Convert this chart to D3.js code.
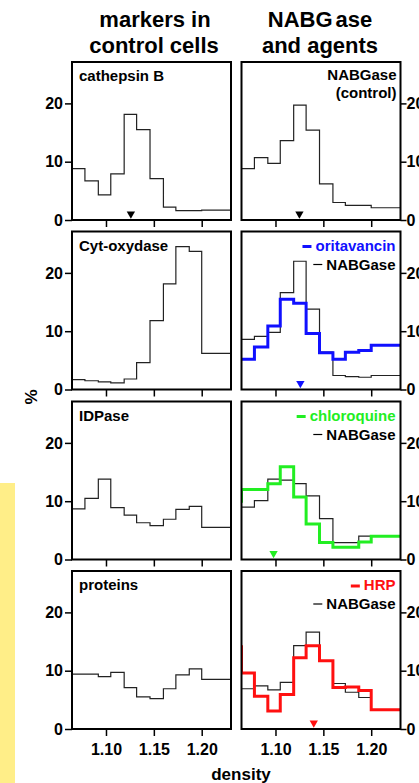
<!DOCTYPE html>
<html>
<head>
<meta charset="utf-8">
<script src="https://cdn.jsdelivr.net/npm/d3@7"></script>
<style>
  body { margin: 0; background: #fff; }
  text { font-family: "Liberation Sans", Arial, sans-serif; font-weight: bold; }
</style>
</head>
<body>
<svg id="chart" width="419" height="783"></svg>
<script>
// fraction limits on the density axis (bin 0 lies left of the plotted range)
var binEdges = [1.051, 1.0645, 1.078, 1.092, 1.105, 1.119, 1.132, 1.146, 1.160, 1.173, 1.187, 1.200, 1.235];
var xTicks = [1.10, 1.15, 1.20];
var yTicks = [0, 10, 20];

// left column: markers in control cells
var cathepsinB = [null, 8.8, 6.7, 4.3, 7.9, 18.1, 15.5, 7.1, 2.2, 1.6, 1.6, 1.7];
var cytOxydase = [null, 1.7, 1.5, 1.3, 1.15, 1.8, 4.6, 11.8, 18.1, 24.5, 23.7, 6.2];
var idpase     = [null, 8.7, 10.5, 13.8, 8.9, 7.6, 6.3, 5.8, 6.9, 8.6, 9.1, 5.5];
var proteins   = [null, 9.4, 9.4, 9.0, 9.7, 7.1, 5.5, 5.2, 6.9, 9.3, 10.3, 8.5];

// right column: NABGase and agents
var nabgControl = [null, 8.8, 10.7, 9.7, 13.6, 19.7, 15.4, 6.2, 3.0, 2.5, 2.5, 2.1];
var nabgOrita   = [null, 8.6, 9.1, 9.8, 16.6, 22.0, 13.8, 6.4, 2.4, 2.2, 2.1, 2.4];
var oritavancin = [null, 5.2, 7.3, 10.9, 15.5, 14.8, 9.6, 6.3, 5.2, 6.4, 6.7, 7.6];
var nabgChloro  = [null, 9.0, 10.1, 13.8, 13.6, 13.0, 10.9, 7.0, 2.9, 2.9, 4.0, 4.0];
var chloroquine = [10.0, 12.0, 12.0, 13.0, 15.9, 10.7, 6.1, 2.9, 2.1, 2.1, 3.0, 4.0];
var nabgHrp     = [null, 6.9, 7.4, 6.7, 8.0, 14.3, 16.6, 11.7, 7.8, 6.3, 5.4, 3.3];
var hrp         = [14.1, 9.6, 5.6, 3.1, 5.9, 12.2, 14.3, 11.7, 7.1, 7.2, 6.6, 3.3];

// median density arrows
var arrowCathepsin = 1.126;
var arrowControl = 1.125;
var arrowOrita = 1.126;
var arrowChloro = 1.098;
var arrowHrp = 1.140;

var W = 159, H = 158;
var colX = [72, 241.5];
var rowY = [62, 231.5, 401.5, 571];

var x = d3.scaleLinear().domain([1.0645, 1.2306]).range([0, W]);
var y = d3.scaleLinear().domain([0, 27.1]).range([H, 0]);

var svg = d3.select("#chart");

// yellow strip on the left
svg.append("rect").attr("x", 0).attr("y", 483).attr("width", 15).attr("height", 300).attr("fill", "#ffee88");

// headings
svg.append("text").attr("x", 155).attr("y", 27).attr("text-anchor", "middle").attr("font-size", 22).text("markers in");
svg.append("text").attr("x", 154).attr("y", 53).attr("text-anchor", "middle").attr("font-size", 22).text("control cells");
var h2 = svg.append("text").attr("x", 320).attr("y", 27).attr("text-anchor", "middle").attr("font-size", 22);
h2.append("tspan").text("NABG");
h2.append("tspan").attr("dx", 3).text("ase");
svg.append("text").attr("x", 320).attr("y", 53).attr("text-anchor", "middle").attr("font-size", 22).text("and agents");

svg.append("text").attr("transform", "translate(37,397) rotate(-90)").attr("text-anchor", "middle")
  .attr("font-size", 17).text("%");
svg.append("text").attr("x", 241).attr("y", 780).attr("text-anchor", "middle").attr("font-size", 17).text("density");

var line = d3.line().x(function (d) { return x(d[0]); }).y(function (d) { return y(d[1]); });

function stepPoints(vals) {
  var pts = [];
  vals.forEach(function (v, i) {
    if (v == null) return;
    pts.push([binEdges[i], v]);
    pts.push([binEdges[i + 1], v]);
  });
  return pts;
}

var panels = [
  { col: 0, row: 0, label: "cathepsin B", series: [{ vals: cathepsinB }], arrow: arrowCathepsin, arrowColor: "#000" },
  { col: 0, row: 1, label: "Cyt-oxydase", series: [{ vals: cytOxydase }] },
  { col: 0, row: 2, label: "IDPase", series: [{ vals: idpase }] },
  { col: 0, row: 3, label: "proteins", series: [{ vals: proteins }] },
  { col: 1, row: 0, note: ["NABGase", "(control)"], series: [{ vals: nabgControl }], arrow: arrowControl, arrowColor: "#000" },
  { col: 1, row: 1, agent: "oritavancin", color: "#1010ff", series: [{ vals: nabgOrita }, { vals: oritavancin, color: "#1010ff" }], arrow: arrowOrita },
  { col: 1, row: 2, agent: "chloroquine", color: "#22ee22", series: [{ vals: nabgChloro }, { vals: chloroquine, color: "#22ee22" }], arrow: arrowChloro },
  { col: 1, row: 3, agent: "HRP", color: "#ff1010", series: [{ vals: nabgHrp }, { vals: hrp, color: "#ff1010" }], arrow: arrowHrp }
];

var defs = svg.append("defs");
defs.append("clipPath").attr("id", "plotclip").append("rect").attr("width", W).attr("height", H);

panels.forEach(function (p) {
  var g = svg.append("g").attr("transform", "translate(" + colX[p.col] + "," + rowY[p.row] + ")");

  var yAxis = (p.col == 0 ? d3.axisLeft(y).tickSize(7).tickPadding(2) : d3.axisRight(y).tickSize(6).tickPadding(0))
    .tickValues(yTicks).tickFormat(d3.format("d"));
  var ya = g.append("g").attr("transform", p.col == 0 ? "translate(0,0)" : "translate(" + W + ",0)").call(yAxis);
  var xAxis = d3.axisBottom(x).tickValues(xTicks).tickSize(7).tickPadding(8)
    .tickFormat(p.row == 3 ? d3.format(".2f") : function () { return ""; });
  var xa = g.append("g").attr("transform", "translate(0," + H + ")").call(xAxis);
  [ya, xa].forEach(function (a) {
    a.select(".domain").remove();
    a.selectAll("line").attr("stroke", "#000").attr("stroke-width", 1.5);
    a.selectAll("text").attr("font-size", 16).attr("fill", "#000")
      .style("font-family", "'Liberation Sans', Arial, sans-serif").style("font-weight", "bold");
  });

  var plot = g.append("g").attr("clip-path", "url(#plotclip)");
  p.series.forEach(function (s) {
    plot.append("path").attr("d", line(stepPoints(s.vals))).attr("fill", "none")
      .attr("stroke", s.color || "#222").attr("stroke-width", s.color ? 3 : 1.2);
  });

  if (p.arrow) {
    g.append("path").attr("d", d3.symbol(d3.symbolTriangle, 30)())
      .attr("transform", "translate(" + x(p.arrow) + "," + (H - 6) + ") rotate(180)")
      .attr("fill", p.arrowColor || p.color);
  }

  g.append("rect").attr("width", W).attr("height", H).attr("fill", "none").attr("stroke", "#000").attr("stroke-width", 2);

  if (p.label) {
    g.append("text").attr("x", 7).attr("y", 19).attr("font-size", 15).text(p.label);
  }
  if (p.note) {
    p.note.forEach(function (t, i) {
      g.append("text").attr("x", W - 4).attr("y", 18 + i * 18).attr("text-anchor", "end").attr("font-size", 15).text(t);
    });
  }
  if (p.agent) {
    var t1 = g.append("text").attr("x", W - 5).attr("y", 19).attr("text-anchor", "end").attr("font-size", 15)
      .attr("fill", p.color).text(p.agent);
    var t2 = g.append("text").attr("x", W - 5).attr("y", 38).attr("text-anchor", "end").attr("font-size", 15).text("NABGase");
    var b1 = t1.node().getBBox(), b2 = t2.node().getBBox();
    g.append("line").attr("x1", b1.x - 13).attr("x2", b1.x - 4).attr("y1", 15).attr("y2", 15)
      .attr("stroke", p.color).attr("stroke-width", 3);
    g.append("line").attr("x1", b2.x - 13).attr("x2", b2.x - 4).attr("y1", 33).attr("y2", 33)
      .attr("stroke", "#000").attr("stroke-width", 1.2);
  }
});
</script>
</body>
</html>
